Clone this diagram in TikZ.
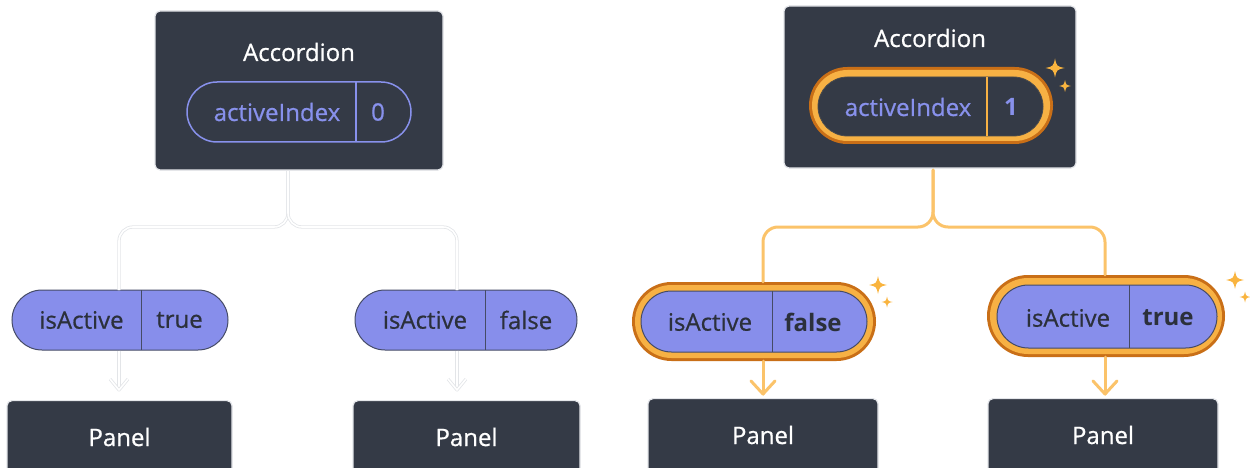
\documentclass[tikz,border=0pt]{standalone}
\usepackage{fontspec}
\setmainfont{Open Sans}
\newfontfamily\labelfont{Open Sans}[FakeBold=0.7]
\usetikzlibrary{calc}

\definecolor{boxdark}{HTML}{343A46}
\definecolor{boxedge}{HTML}{E4E6EA}
\definecolor{peri}{HTML}{8891EC}
\definecolor{perifill}{HTML}{878EEB}
\definecolor{pillline}{HTML}{454B66}
\definecolor{inkdark}{HTML}{2B303B}
\definecolor{ringdark}{HTML}{C96F17}
\definecolor{ringlight}{HTML}{F7B144}
\definecolor{wire}{HTML}{FBC36A}
\definecolor{spark}{HTML}{F9B43F}
\definecolor{ghost}{HTML}{E3E5E8}

\tikzset{
  comp/.style={fill=boxdark, draw=boxedge, line width=1.2pt, rounded corners=5pt,
    inner sep=0pt},
  lbl/.style={inner sep=0pt, font=\labelfont\fontsize{24}{28}\selectfont, anchor=center},
  boldlbl/.style={lbl, font=\fontsize{24}{28}\selectfont\bfseries},
  pill/.style={rounded corners=30pt, inner sep=0pt},
  ghostwire/.style={draw=ghost, line width=0.8pt, double=white, double distance=1.6pt},
  hotwire/.style={draw=wire, line width=3pt, line cap=round, line join=round},
  sparkle/.pic={
    \fill[spark] (0,-1) .. controls (0.18,-0.18) .. (1,0)
      .. controls (0.18,0.18) .. (0,1)
      .. controls (-0.18,0.18) .. (-1,0)
      .. controls (-0.18,-0.18) .. cycle;
  }
}

\begin{document}
\begin{tikzpicture}[x=1pt, y=-1pt]
\useasboundingbox (0,0) rectangle (1250,468);
\clip (0,0) rectangle (1250,468);

% ---------------- left tree: before the click ----------------
\node[comp, minimum width=288pt, minimum height=159pt] (accA) at (299,90.5) {};
\node[lbl, text=white] (accAt) at (299,52) {Accordion};
\node[pill, draw=peri, line width=1.5pt, minimum width=224pt, minimum height=60pt]
  (idxA) at (299,112) {};
\draw[peri, line width=1.5pt] (356,82) -- (356,142);
\node[lbl, text=peri] (idxAk) at (277,112) {activeIndex};
\node[lbl, text=peri] (idxAv) at (378,112) {0};

% first panel's prop
\node[pill, fill=perifill, draw=pillline, line width=1pt, minimum width=216pt,
  minimum height=60pt] (pA1) at (120,320) {};
\draw[pillline, line width=1pt] (141,290) -- (141,350);
\node[lbl, text=inkdark] (pA1k) at (81.5,320) {isActive};
\node[lbl, text=inkdark] (pA1v) at (179.5,320) {true};

% second panel's prop
\node[pill, fill=perifill, draw=pillline, line width=1pt, minimum width=222pt,
  minimum height=60pt] (pA2) at (466,320) {};
\draw[pillline, line width=1pt] (485,290) -- (485,350);
\node[lbl, text=inkdark] (pA2k) at (425,320) {isActive};
\node[lbl, text=inkdark] (pA2v) at (526,320) {false};

% panels
\node[comp, minimum width=225pt, minimum height=90pt, anchor=north] (panA1) at (119.5,400) {};
\node[lbl, text=white] at (119.5,437) {Panel};
\node[comp, minimum width=227pt, minimum height=90pt, anchor=north] (panA2) at (466.5,400) {};
\node[lbl, text=white] at (466.5,437) {Panel};

% faint wiring
\coordinate (stemA) at (288,171);
\coordinate (forkA) at (288,227);
\draw[ghostwire, rounded corners=14pt] (stemA) -- (forkA) -- (forkA -| 119,0) -- (119,290);
\draw[ghostwire, rounded corners=14pt] (stemA) -- (forkA) -- (forkA -| 457,0) -- (457,290);
\coordinate (tipA1) at (119,390);
\coordinate (tipA2) at (457,390);
\draw[ghostwire] (pA1.south -| tipA1) -- (tipA1);
\draw[ghostwire, line join=round] ($(tipA1)+(-9,-11)$) -- (tipA1) -- ($(tipA1)+(9,-11)$);
\draw[ghostwire] (pA2.south -| tipA2) -- (tipA2);
\draw[ghostwire, line join=round] ($(tipA2)+(-9,-11)$) -- (tipA2) -- ($(tipA2)+(9,-11)$);

% ---------------- right tree: after the click ----------------
\node[comp, minimum width=292pt, minimum height=162pt] (accB) at (930,87) {};
\node[lbl, text=white] (accBt) at (930,38) {Accordion};
\node[pill, fill=ringdark, minimum width=244pt, minimum height=77pt, rounded corners=38.5pt]
  (idxBo) at (931,105.5) {};
\node[pill, fill=ringlight, minimum width=238pt, minimum height=71pt, rounded corners=35.5pt]
  at (931,105.5) {};
\node[pill, fill=boxdark, draw=black!70, line width=0.8pt, minimum width=225pt,
  minimum height=59pt, rounded corners=29.5pt] (idxB) at (930.5,106.5) {};
\draw[ringlight, line width=1.5pt] (987,77) -- (987,136);
\node[lbl, text=peri] (idxBk) at (908,107) {activeIndex};
\node[boldlbl, text=peri] (idxBv) at (1011,107) {1};
\pic at (1055,68) [scale=9.5] {sparkle};
\pic at (1065,86) [scale=6] {sparkle};

% first panel's prop, now false
\node[pill, fill=ringdark, minimum width=244pt, minimum height=79pt, rounded corners=39.5pt]
  (pB1o) at (754,321.5) {};
\node[pill, fill=ringlight, minimum width=238pt, minimum height=73pt, rounded corners=36.5pt]
  at (754,321.5) {};
\node[pill, fill=perifill, draw=pillline, line width=1pt, minimum width=226pt,
  minimum height=61pt, rounded corners=30.5pt] (pB1) at (754,321.5) {};
\draw[pillline, line width=1pt] (772,291) -- (772,352);
\node[lbl, text=inkdark] (pB1k) at (710,322) {isActive};
\node[boldlbl, text=inkdark] (pB1v) at (813,322) {false};
\pic at (878,285) [scale=9] {sparkle};
\pic at (887,302) [scale=5.5] {sparkle};

% second panel's prop, now true
\node[pill, fill=ringdark, minimum width=238pt, minimum height=82pt, rounded corners=41pt]
  (pB2o) at (1106,316) {};
\node[pill, fill=ringlight, minimum width=232pt, minimum height=76pt, rounded corners=38pt]
  at (1106,316) {};
\node[pill, fill=perifill, draw=pillline, line width=1pt, minimum width=220pt,
  minimum height=63pt, rounded corners=31.5pt] (pB2) at (1107,316.5) {};
\draw[pillline, line width=1pt] (1129,285) -- (1129,348);
\node[lbl, text=inkdark] (pB2k) at (1068,318) {isActive};
\node[boldlbl, text=inkdark] (pB2v) at (1168,318) {true};
\pic at (1235,280) [scale=9] {sparkle};
\pic at (1245,297) [scale=5.5] {sparkle};

% panels
\node[comp, minimum width=230pt, minimum height=90pt, anchor=north] (panB1) at (763,398) {};
\node[lbl, text=white] at (763,435) {Panel};
\node[comp, minimum width=230pt, minimum height=90pt, anchor=north] (panB2) at (1103,398) {};
\node[lbl, text=white] at (1103,435) {Panel};

% highlighted wiring
\coordinate (stemB) at (933,170);
\coordinate (forkB) at (933,227);
\draw[hotwire, rounded corners=15pt] (stemB) -- (forkB) -- (forkB -| 763,0) -- (pB1o.north -| 763,0);
\draw[hotwire, rounded corners=15pt] (stemB) -- (forkB) -- (forkB -| 1105,0) -- (pB2o.north -| 1105,0);
\coordinate (tipB1) at (763,394);
\coordinate (tipB2) at (1105,394);
\draw[hotwire] (pB1o.south -| tipB1) -- (tipB1);
\draw[hotwire] ($(tipB1)+(-12,-13)$) -- (tipB1) -- ($(tipB1)+(12,-13)$);
\draw[hotwire] (pB2o.south -| tipB2) -- (tipB2);
\draw[hotwire] ($(tipB2)+(-12,-13)$) -- (tipB2) -- ($(tipB2)+(12,-13)$);
\end{tikzpicture}
\end{document}
